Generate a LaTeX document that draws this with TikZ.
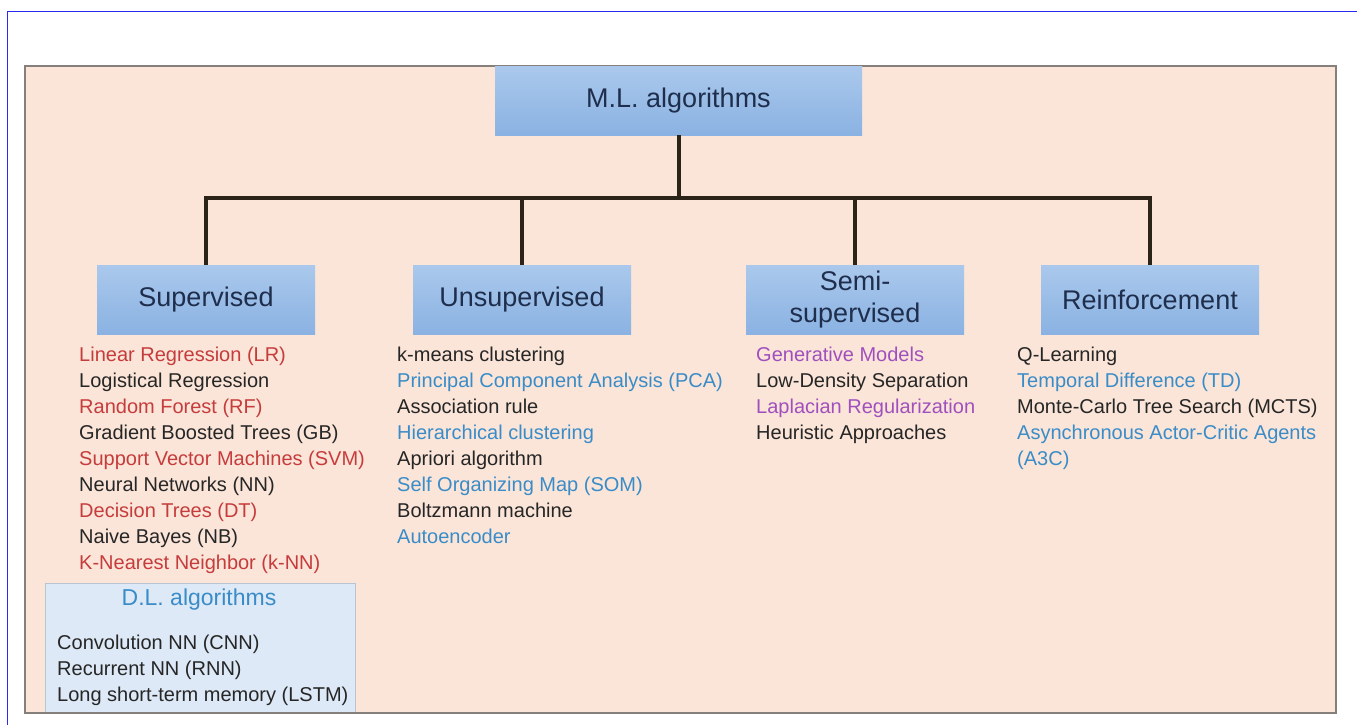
\documentclass[tikz,border=0pt]{standalone}
\usepackage{fontspec}
\setmainfont{Liberation Sans}
\usetikzlibrary{positioning,calc}
\definecolor{peach}{HTML}{FAE5D8}
\definecolor{framegray}{HTML}{85807C}
\definecolor{outerblue}{HTML}{2A2AF5}
\definecolor{headtop}{HTML}{AAC8EC}
\definecolor{headbot}{HTML}{8AB2E2}
\definecolor{headtext}{HTML}{1E2E4C}
\definecolor{barcol}{HTML}{2B2218}
\definecolor{dlfill}{HTML}{DDE9F6}
\definecolor{dledge}{HTML}{B7C4D2}
\definecolor{mlred}{HTML}{C63C3C}
\definecolor{mlblue}{HTML}{3A8CC8}
\definecolor{mlpurple}{HTML}{A050BE}
\definecolor{mlblack}{HTML}{262626}
\tikzset{
  head/.style={top color=headtop, bottom color=headbot, text=headtext, minimum width=218pt,
    minimum height=69pt, inner sep=2pt, align=center, font=\fontsize{27}{32}\selectfont},
  item/.style={anchor=base west, inner sep=0pt, font=\fontsize{20}{26}\selectfont},
  branch/.style={draw=barcol, line width=4pt},
  dlbox/.style={fill=dlfill, draw=dledge, line width=0.8pt},
}
\begin{document}
\begin{tikzpicture}
\useasboundingbox (0pt,0pt) rectangle (1357pt,-725pt);
\draw [outerblue, line width=1.8pt] (7.5pt,-11.5pt) rectangle (1380pt,-745pt);
\fill [peach] (25pt,-66pt) rectangle (1336pt,-713pt);
% D.L. box
\node[dlbox, anchor=north west, minimum width=310pt, minimum height=129pt] (dl) at (45pt,-583pt) {};
\draw [framegray, line width=2pt] (25pt,-66pt) rectangle (1336pt,-713pt);
% headers
\node[head, minimum width=367pt, minimum height=68pt] (ml) at (678.5pt,-101pt) {M.L. algorithms};
\node[head] (sup) at (206pt,-300pt) {Supervised};
\node[head] (unsup) at (522pt,-300pt) {Unsupervised};
\node[head] (semi) at (855pt,-300pt) {Semi-\\supervised};
\node[head] (reinf) at (1150pt,-300pt) {Reinforcement};
\coordinate (bus) at (678.5pt,-198pt);
\draw[branch] (ml.south) -- (bus);
\foreach \n in {sup,unsup,semi,reinf} \draw[branch] (\n.north) |- (bus);
% lists
\coordinate (sup-top) at (79pt,-361pt);
\coordinate (unsup-top) at (397pt,-361pt);
\coordinate (semi-top) at (756pt,-361pt);
\coordinate (reinf-top) at (1017pt,-361pt);
\foreach \t/\c [count=\i] in {Linear Regression (LR)/mlred, Logistical Regression/mlblack,
  Random Forest (RF)/mlred, Gradient Boosted Trees (GB)/mlblack, Support Vector Machines (SVM)/mlred,
  Neural Networks (NN)/mlblack, Decision Trees (DT)/mlred, Naive Bayes (NB)/mlblack,
  K-Nearest Neighbor (k-NN)/mlred}
  \node[item, text=\c] (sup-\i) at ([yshift={(1-\i)*26pt}]sup-top) {\t};
\foreach \t/\c [count=\i] in {k-means clustering/mlblack, Principal Component Analysis (PCA)/mlblue,
  Association rule/mlblack, Hierarchical clustering/mlblue, Apriori algorithm/mlblack,
  Self Organizing Map (SOM)/mlblue, Boltzmann machine/mlblack, Autoencoder/mlblue}
  \node[item, text=\c] (unsup-\i) at ([yshift={(1-\i)*26pt}]unsup-top) {\t};
\foreach \t/\c [count=\i] in {Generative Models/mlpurple, Low-Density Separation/mlblack,
  Laplacian Regularization/mlpurple, Heuristic Approaches/mlblack}
  \node[item, text=\c] (semi-\i) at ([yshift={(1-\i)*26pt}]semi-top) {\t};
\foreach \t/\c [count=\i] in {Q-Learning/mlblack, Temporal Difference (TD)/mlblue,
  Monte-Carlo Tree Search (MCTS)/mlblack, Asynchronous Actor-Critic Agents/mlblue, (A3C)/mlblue}
  \node[item, text=\c] (reinf-\i) at ([yshift={(1-\i)*26pt}]reinf-top) {\t};
% D.L. algorithms
\node[inner sep=0pt, anchor=base, text=mlblue, font=\fontsize{23}{28}\selectfont] (dl-title) at (199pt,-605pt) {D.L. algorithms};
\coordinate (dl-top) at (57pt,-649pt);
\foreach \t [count=\i] in {Convolution NN (CNN), Recurrent NN (RNN), Long short-term memory (LSTM)}
  \node[item, text=mlblack] (dl-\i) at ([yshift={(1-\i)*26pt}]dl-top) {\t};
\end{tikzpicture}
\end{document}
